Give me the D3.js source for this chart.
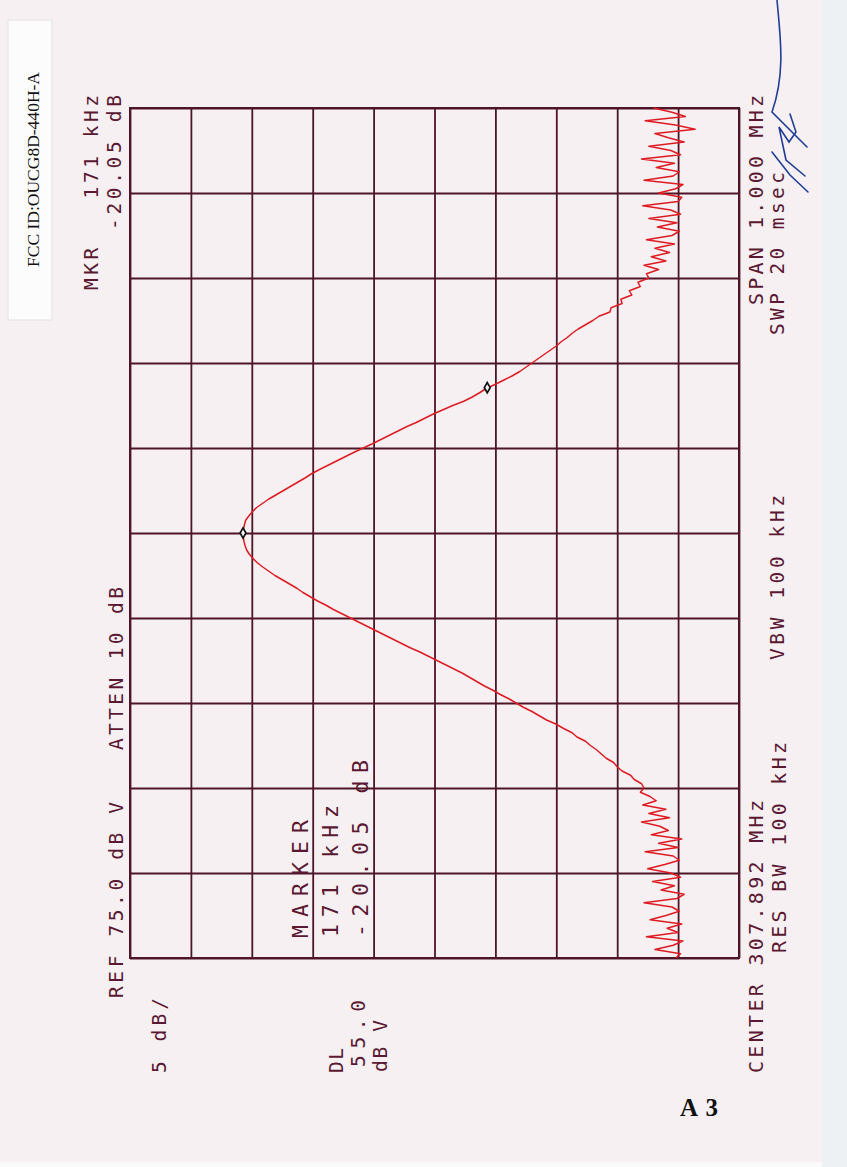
<!DOCTYPE html>
<html>
<head>
<meta charset="utf-8">
<script src="https://cdn.jsdelivr.net/npm/d3@7"></script>
<style>
  html, body { margin: 0; padding: 0; background: #f6f0f2; }
  svg { display: block; }
  text { white-space: pre; }
</style>
</head>
<body>
<div id="plot"></div>
<script>
// Sweep: offset from centre frequency in kHz, 5 kHz per trace point.
var sweepStart = -500, sweepStop = 500, sweepStep = 5;

// Trace amplitude in dBuV, one value per sweep point.
var traceLevels = [
  30.2, 29.8, 31.9, 30.4, 29.6, 32.6, 30.0, 30.9, 29.7, 32.3,
  31.0, 29.9, 30.5, 32.8, 30.1, 29.5, 31.4, 30.3, 32.1, 29.8,
  30.6, 32.5, 31.1, 29.9, 30.4, 32.7, 30.0, 31.6, 29.7, 32.2,
  30.8, 31.5, 33.0, 30.7, 32.4, 31.0, 32.9, 31.8, 32.3, 33.1,
  32.8, 33.0, 33.6, 33.9, 34.6, 35.0, 35.3, 35.9, 36.3, 36.7,
  37.2, 37.6, 38.3, 38.7, 39.4, 40.0, 40.8, 41.4, 42.0, 42.7,
  43.3, 43.9, 44.6, 45.2, 45.9, 46.5, 47.1, 47.7, 48.4, 49.1,
  49.8, 50.5, 51.2, 52.0, 52.7, 53.4, 54.1, 54.8, 55.5, 56.2,
  56.9, 57.6, 58.3, 58.9, 59.6, 60.2, 60.8, 61.3, 61.9, 62.5,
  63.1, 63.6, 64.1, 64.55, 64.9, 65.2, 65.42, 65.55, 65.64, 65.70,
  65.72, 65.68, 65.6, 65.5, 65.25, 64.95, 64.6, 64.1, 63.6, 63.0,
  62.4, 61.8, 61.2, 60.6, 60.06, 59.4, 58.7, 58.0, 57.3, 56.6,
  55.85, 55.1, 54.4, 53.7, 53.0, 52.3, 51.5, 50.8, 50.1, 49.3,
  48.5, 47.6, 46.9, 46.3, 45.75, 45.0, 44.3, 43.6, 43.0, 42.5,
  42.0, 41.5, 41.0, 40.5, 40.0, 39.6, 39.1, 38.7, 38.2, 37.6,
  37.0, 36.5, 35.6, 35.5, 34.6, 34.7, 33.8, 34.0, 33.1, 33.3,
  32.4, 32.6, 31.6, 32.8, 31.0, 32.2, 30.7, 31.9, 30.3, 32.6,
  30.5, 29.9, 31.7, 30.1, 32.4, 29.8, 30.6, 32.9, 30.0, 29.7,
  31.6, 30.2, 29.6, 32.8, 30.4, 29.9, 31.8, 30.3, 33.0, 29.8,
  30.6, 32.4, 29.5, 30.8, 31.9, 28.6, 30.2, 32.7, 29.4, 30.5,
  32.0
];

// Marker (peak) and delta marker.
var markerFreqs = [0, 171];
var markerLevels = [65.72, 45.67];

// Graticule: 100 kHz/div and 5 dB/div from REF 75 dBuV.
var freqTicks = [-500, -400, -300, -200, -100, 0, 100, 200, 300, 400, 500];
var levelTicks = [75, 70, 65, 60, 55, 50, 45, 40, 35, 30, 25];

// Annotation texts as printed by the analyser.
var txtMkr = "MKR   171 kHz";
var txtMkrDelta = "-20.05 dB";
var txtRef = "REF 75.0 dB V";
var txtAtten = "ATTEN 10 dB";
var txtScale = "5 dB/";
var txtDl = ["DL", "55.0", "dB V"];
var txtMarker = ["MARKER", "171 kHz", "-20.05 dB"];
var txtCenter = "CENTER 307.892 MHz";
var txtRbw = "RES BW 100 kHz";
var txtVbw = "VBW 100 kHz";
var txtSpan = "SPAN 1.000 MHz";
var txtSwp = "SWP 20 msec";
var txtFcc = "FCC ID:OUCG8D-440H-A";
var txtPage = "A 3";

var W = 847, H = 1167;
var gx0 = 130, gx1 = 739, gy0 = 108, gy1 = 958;
var gridCol = "#4e1526", inkCol = "#5a1832";

var svg = d3.select("#plot").append("svg")
  .attr("width", W)
  .attr("height", H);

// paper
svg.append("rect").attr("width", W).attr("height", H).attr("fill", "#f6f0f2");
svg.append("rect").attr("x", 822).attr("width", W - 822).attr("height", H).attr("fill", "#eef1f4");
svg.append("rect").attr("y", 1162).attr("width", 822).attr("height", 5).attr("fill", "#fbfafa");

// The plot is printed rotated: frequency runs upward, level runs to the right.
var freqScale = d3.scaleLinear().domain([sweepStart, sweepStop]).range([gy1, gy0]);
var levelScale = d3.scaleLinear().domain([75, 25]).range([gx0, gx1]);

var gridH = d3.axisLeft(freqScale)
  .tickValues(freqTicks)
  .tickSize(-(gx1 - gx0))
  .tickFormat("");
var gridV = d3.axisTop(levelScale)
  .tickValues(levelTicks)
  .tickSize(-(gy1 - gy0))
  .tickFormat("");

var gH = svg.append("g").attr("transform", "translate(" + gx0 + ",0)").call(gridH);
var gV = svg.append("g").attr("transform", "translate(0," + gy0 + ")").call(gridV);
[gH, gV].forEach(function(g) {
  g.select(".domain").remove();
  g.selectAll(".tick line").attr("stroke", gridCol).attr("stroke-width", 1.8);
});

svg.append("rect")
  .attr("x", levelScale(75)).attr("y", freqScale(sweepStop))
  .attr("width", levelScale(25) - levelScale(75))
  .attr("height", freqScale(sweepStart) - freqScale(sweepStop))
  .attr("fill", "none").attr("stroke", gridCol).attr("stroke-width", 2);

// trace
var freqs = d3.range(sweepStart, sweepStop + sweepStep / 2, sweepStep);
var pts = d3.zip(freqs, traceLevels);
var line = d3.line()
  .x(function(d) { return levelScale(d[1]); })
  .y(function(d) { return freqScale(d[0]); });

svg.append("path")
  .datum(pts)
  .attr("d", line)
  .attr("fill", "none")
  .attr("stroke", "#de1b22")
  .attr("stroke-width", 1.5)
  .attr("stroke-linejoin", "round");

// markers
svg.selectAll(".mk")
  .data(d3.zip(markerFreqs, markerLevels))
  .enter()
  .append("path")
  .attr("class", "mk")
  .attr("transform", function(d) {
    return "translate(" + levelScale(d[1]) + "," + freqScale(d[0]) + ")";
  })
  .attr("d", d3.symbol().type(d3.symbolDiamond).size(30))
  .attr("fill", "#f6f0f2")
  .attr("stroke", "#111")
  .attr("stroke-width", 1.7);

// rotated annotation: baseline at x, runs upward from y0 to y1
function vlabel(str, x, y0, y1, size) {
  svg.append("text")
    .attr("transform", "translate(" + x + "," + y0 + ") rotate(-90)")
    .attr("textLength", y0 - y1)
    .attr("lengthAdjust", "spacing")
    .attr("font-family", "DejaVu Sans Mono, monospace")
    .attr("font-size", size)
    .attr("fill", inkCol)
    .text(str);
}

vlabel(txtMkr, 98, 290, 95, 19.5);
vlabel(txtMkrDelta, 121, 230, 95, 19.5);
vlabel(txtRef, 123, 998, 802, 19.5);
vlabel(txtAtten, 123, 750, 587, 19.5);
vlabel(txtScale, 166, 1073, 998, 19.5);
vlabel(txtDl[0], 343, 1073, 1048, 19.5);
vlabel(txtDl[1], 365, 1067, 1000, 19.5);
vlabel(txtDl[2], 387, 1072, 1020, 19.5);
vlabel(txtMarker[0], 308, 938, 820, 21.5);
vlabel(txtMarker[1], 338, 937, 805, 21.5);
vlabel(txtMarker[2], 368, 937, 760, 21.5);
vlabel(txtCenter, 763, 1073, 800, 20);
vlabel(txtRbw, 786, 953, 742, 20);
vlabel(txtVbw, 784, 660, 495, 19.5);
vlabel(txtSpan, 763, 305, 95, 20);
vlabel(txtSwp, 784, 335, 172, 19.5);

// FCC sticker
svg.append("rect")
  .attr("x", 8).attr("y", 20).attr("width", 44).attr("height", 300)
  .attr("fill", "#fdfcfc").attr("stroke", "#e6e0e2").attr("stroke-width", 1);
svg.append("text")
  .attr("transform", "translate(39,267) rotate(-90)")
  .attr("textLength", 195)
  .attr("lengthAdjust", "spacingAndGlyphs")
  .attr("font-family", "Liberation Serif, serif")
  .attr("font-size", 17)
  .attr("fill", "#111")
  .text(txtFcc);

// page number
svg.append("text")
  .attr("x", 680).attr("y", 1116)
  .attr("textLength", 38)
  .attr("lengthAdjust", "spacing")
  .attr("font-family", "Liberation Serif, serif")
  .attr("font-weight", "bold")
  .attr("font-size", 25)
  .attr("fill", "#111")
  .text(txtPage);

// signature scribble
var sig = svg.append("g")
  .attr("fill", "none")
  .attr("stroke", "#1f3f95")
  .attr("stroke-width", 1.6)
  .attr("stroke-linecap", "round");
sig.append("path").attr("d", "M777,0 C780,35 786,72 772,112 L807,147");
sig.append("path").attr("d", "M790,114 L796,132 L789,142 L779,127 L786,160 L805,176");
sig.append("path").attr("d", "M772,152 L790,175 L808,192");
</script>
</body>
</html>
